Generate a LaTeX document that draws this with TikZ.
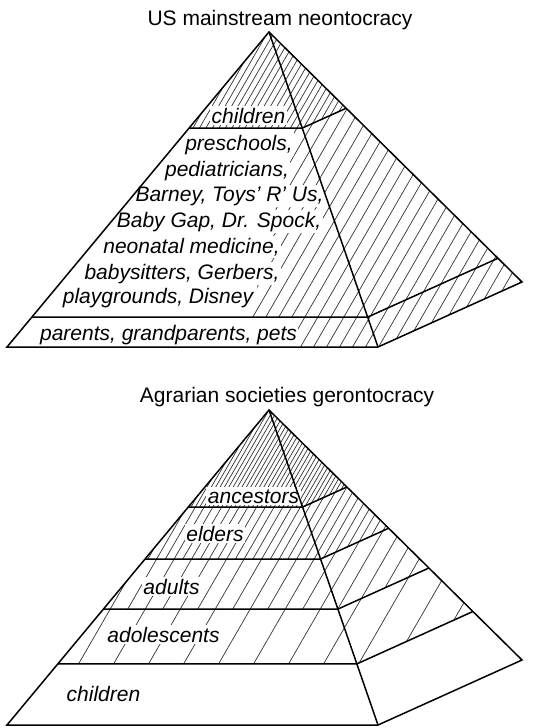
\documentclass[tikz,border=0pt]{standalone}
\usepackage{fontspec}
\setmainfont{Liberation Sans}
\usetikzlibrary{calc}
\newcommand\hatchreg[2]{%
  \begin{scope}
    \clip #1;
    \foreach \k in {-130,...,130} {\draw[hatchline] ({\k*#2},800) -- ++(519.6,-900);}
  \end{scope}}
\begin{document}
\begin{tikzpicture}[x=1pt,y=-1pt,
  hatchline/.style={line width=0.7pt,black!80},
  outline/.style={line width=1.5pt,black,line join=miter},
  lab/.style={font=\fontsize{21}{25}\selectfont\itshape,fill=white,inner xsep=1.5pt,inner ysep=2pt,anchor=base},
  ttl/.style={font=\fontsize{21}{25}\selectfont,anchor=base,inner sep=0pt}]
\fill[white] (0,0) rectangle (540,728);
\path[use as bounding box] (0,0) rectangle (540,728);

% ---------- top pyramid ----------
\coordinate (TA) at (269,32);
\coordinate (TL) at (7,347);
\coordinate (TF) at (378,347);
\coordinate (TB) at (522,282);
\coordinate (Tl1) at ($(TA)!0.305!(TL)$);
\coordinate (Tf1) at ($(TA)!0.305!(TF)$);
\coordinate (Tb1) at ($(TA)!0.305!(TB)$);
\coordinate (Tl2) at ($(TA)!0.905!(TL)$);
\coordinate (Tf2) at ($(TA)!0.905!(TF)$);
\coordinate (Tb2) at ($(TA)!0.905!(TB)$);

\hatchreg{(TA)--(Tl1)--(Tf1)--(Tb1)--cycle}{6.5}
\hatchreg{(Tf1)--(Tb1)--(TB)--(TF)--cycle}{13}
\hatchreg{(295,128)--(Tf1)--(TF)--(295,347)--(295,317)--(250,317)--cycle}{13}

\node[ttl] (t1) at (280,25) {US mainstream neontocracy};
\node[lab] (tc) at (248.5,123) {children};
\node[lab] (m1) at (239,150) {preschools,};
\node[lab] (m2) at (227,176) {pediatricians,};
\node[lab] (m3) at (229.5,201) {Barney, Toys’ R’ Us,};
\node[lab] (m4) at (219,227) {Baby Gap, Dr. Spock,};
\node[lab] (m5) at (191.5,253) {neonatal medicine,};
\node[lab] (m6) at (182,279) {babysitters, Gerbers,};
\node[lab] (m7) at (158,303) {playgrounds, Disney};
\node[lab] (tp) at (168.5,340) {parents, grandparents, pets};

\draw[outline] (Tl1) -- (Tf1) -- (Tb1);
\draw[outline] (Tl2) -- (Tf2) -- (Tb2);
\draw[outline] (TA) -- (TL) -- (TF) -- (TB) -- cycle;
\draw[outline] (TA) -- (TF);

% ---------- bottom pyramid ----------
\coordinate (BA) at (269,410);
\coordinate (BL) at (7,725);
\coordinate (BF) at (378,725);
\coordinate (BB) at (522,660);
\foreach \n/\t in {1/0.308,2/0.473,3/0.632,4/0.806}{
  \coordinate (Bl\n) at ($(BA)!\t!(BL)$);
  \coordinate (Bf\n) at ($(BA)!\t!(BF)$);
  \coordinate (Bb\n) at ($(BA)!\t!(BB)$);
}
\hatchreg{(BA)--(Bl1)--(Bf1)--(Bb1)--cycle}{4.375}
\hatchreg{(Bl1)--(Bl2)--(Bf2)--(Bb2)--(Bb1)--(Bf1)--cycle}{8.75}
\hatchreg{(Bl2)--(Bl3)--(Bf3)--(Bb3)--(Bb2)--(Bf2)--cycle}{17.5}
\hatchreg{(Bl3)--(Bl4)--(Bf4)--(Bb4)--(Bb3)--(Bf3)--cycle}{35}

\node[ttl] (t2) at (287,402) {Agrarian societies gerontocracy};
\node[lab] (b1) at (253.5,503) {ancestors};
\node[lab] (b2) at (215,541) {elders};
\node[lab] (b3) at (171.5,594) {adults};
\node[lab] (b4) at (163.5,642) {adolescents};
\node[lab] (b5) at (103.5,701) {children};

\foreach \n in {1,2,3,4}{\draw[outline] (Bl\n) -- (Bf\n) -- (Bb\n);}
\draw[outline] (BA) -- (BL) -- (BF) -- (BB) -- cycle;
\draw[outline] (BA) -- (BF);
\end{tikzpicture}
\end{document}
